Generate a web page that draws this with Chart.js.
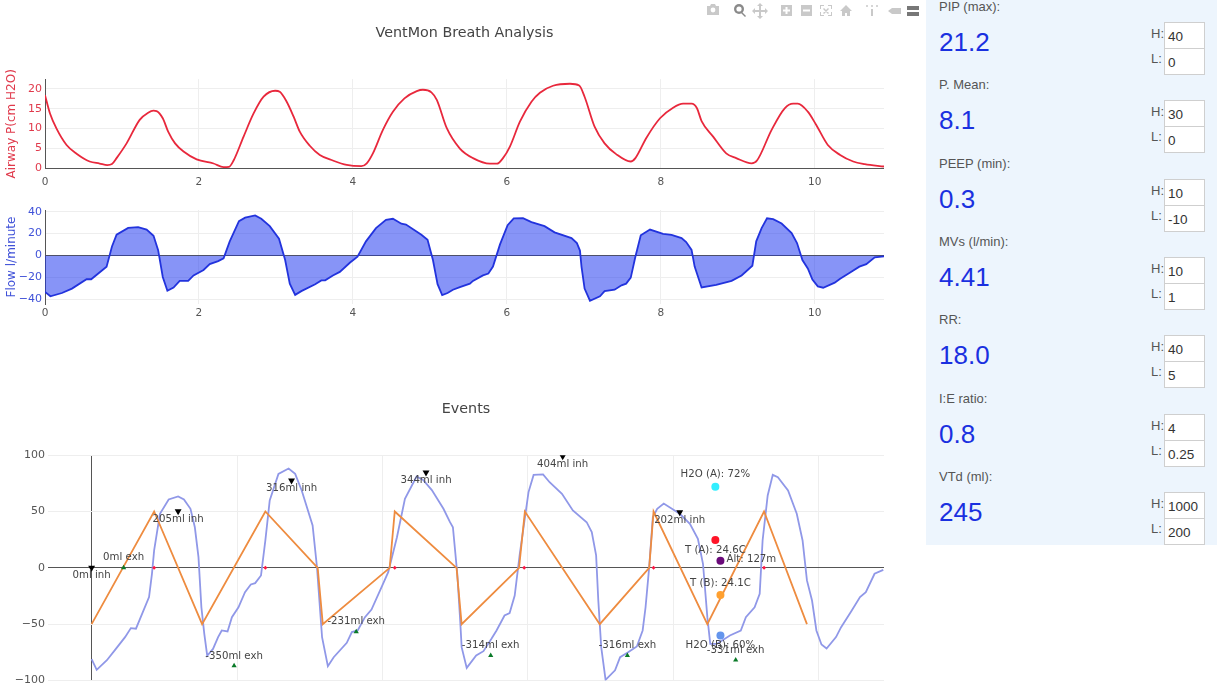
<!DOCTYPE html>
<html>
<head>
<meta charset="utf-8">
<title>VentMon Breath Analysis</title>
<script src="https://cdn.jsdelivr.net/npm/chart.js@4/dist/chart.umd.js"></script>
<style>
  html, body { margin: 0; padding: 0; background: #fff; width: 1230px; height: 687px; overflow: hidden; }
  canvas { position: absolute; left: 0; }
  #modebar { position: absolute; left: 700px; top: 1px; }
  #panel { position: absolute; left: 926px; top: 0; width: 291px; height: 545px; background: #edf5fd;
           font-family: "Liberation Sans", sans-serif; color: #555; overflow: hidden; }
  .row { position: absolute; left: 0; width: 291px; height: 78px; }
  .name { position: absolute; left: 13px; top: -1px; font-size: 13px; line-height: 16px; white-space: nowrap; }
  .value { position: absolute; left: 13px; top: 27px; font-size: 26px; line-height: 30px; color: #1a30e0; }
  .lim { position: absolute; left: 225px; font-size: 13px; line-height: 16px; }
  .box { position: absolute; left: 238px; width: 39px; height: 25px; background: #fff; border: 1px solid #cfcfcf;
         box-sizing: content-box; font-size: 13.5px; line-height: 27px; color: #333; text-indent: 3px; }
</style>
</head>
<body>
<svg id="modebar" width="226" height="20" viewBox="0 0 226 20">
  <g fill="#c9c9c9">
    <path d="M7 5h3l1-2h4l1 2h3v9H7z"/><circle cx="13" cy="9" r="2.4" fill="#fff"/>
    <circle cx="39" cy="8" r="5" fill="#8a8a8a"/><circle cx="39" cy="8" r="2.6" fill="#fff"/><path d="M42 11l4 4-1 1-4-4z" fill="#8a8a8a"/>
    <path transform="translate(-4 0)" d="M59 9h4V5h-2l3-3 3 3h-2v4h4V7l3 3-3 3v-2h-4v4h2l-3 3-3-3h2v-4h-4v2l-3-3 3-3z"/>
    <path d="M81 4h11v11H81z"/><path d="M85.500 6h2v2.500H90v2h-2.500V13h-2v-2.500H83v-2h2.500z" fill="#fff"/>
    <path d="M101 4h11v11h-11z"/><path d="M103 8.500h7v2h-7z" fill="#fff"/>
    <path d="M120 4h4v1h-3v3h-1zM132 4v4h-1V5h-3V4zM120 15v-4h1v3h3v1zM132 15h-4v-1h3v-3h1zM124 7l5 5-1 1-5-5zM128 7l1 1-5 5-1-1z"/>
    <path d="M146 4l6 6h-2v5h-3v-3h-2v3h-3v-5h-2z"/>
    <path d="M171 8h2v7h-2z"/><circle cx="167" cy="5" r="1"/><circle cx="172" cy="5" r="1"/><circle cx="177" cy="5" r="1"/>
    <path d="M188 10l4-3h9v6h-9z"/>
    <path d="M207 5h12v4h-12zM207 11h12v4h-12z" fill="#777"/>
  </g>
</svg>
<canvas id="pressure"></canvas>
<canvas id="flow"></canvas>
<canvas id="events"></canvas>
<div id="panel"></div>
<script>
const pressureTime = [0,.065,.15,.28,.41,.58,.71,.81,.87,.93,1.06,1.23,1.34,1.41,1.45,1.53,1.6,1.69,1.8,1.97,2.19,2.32,2.39,2.45,2.58,2.71,2.84,2.99,3.05,3.14,3.23,3.31,3.44,3.57,3.74,3.92,4.11,4.18,4.26,4.39,4.52,4.67,4.83,4.91,5.02,5.09,5.22,5.39,5.56,5.78,5.87,5.95,6.04,6.17,6.32,6.43,6.6,6.82,6.94,7.01,7.14,7.27,7.42,7.61,7.67,7.81,7.99,8.16,8.29,8.4,8.47,8.53,8.68,8.85,8.98,9.18,9.25,9.44,9.61,9.72,9.78,9.91,10.02,10.17,10.33,10.5,10.65,10.9];
const pressureValues = [18.4,13.8,10,5.9,3.7,1.75,1.25,.85,1.1,2.6,6.3,12.2,14,14.5,14.4,12.6,9.25,6.3,4.25,2.3,1.25,.33,.4,2,8,13.8,18,19.5,19.25,16.75,13,9.25,5.7,3.4,2,.9,.6,1.3,3.8,9.7,14.25,17.6,19.4,19.75,19.1,17.2,10.1,5,2.6,1.2,1.2,2.6,5.5,11.75,16.75,19,20.75,21.25,20.8,18,10.5,6.3,3.6,1.75,2.6,7.6,12.6,15.25,16.25,16.25,15.1,11.9,8,3.8,2.6,1.3,2,9.7,15.1,16.25,16.25,14.25,10.9,5.9,3.4,1.75,1.1,.5];

const flowTime = [0,.07,.22,.35,.54,.6,.8,.87,.93,1.08,1.21,1.32,1.41,1.47,1.53,1.59,1.67,1.75,1.86,1.93,2.06,2.14,2.25,2.32,2.4,2.52,2.6,2.73,2.81,2.92,3.04,3.12,3.18,3.25,3.33,3.51,3.59,3.64,3.74,3.83,3.96,4.06,4.17,4.3,4.43,4.52,4.63,4.69,4.89,4.97,5.04,5.1,5.16,5.23,5.3,5.39,5.52,5.56,5.69,5.76,5.82,5.91,6.01,6.09,6.21,6.32,6.49,6.62,6.84,6.91,6.95,6.97,7.01,7.08,7.21,7.27,7.4,7.49,7.55,7.61,7.67,7.74,7.86,8.03,8.14,8.27,8.33,8.4,8.44,8.53,8.72,8.92,9.05,9.19,9.24,9.31,9.38,9.46,9.57,9.7,9.77,9.84,9.91,9.97,10.04,10.11,10.26,10.33,10.45,10.58,10.67,10.78,10.9];
const flowValues = [-33,-37,-34,-30,-21.5,-21.5,-10,8.3,19,25.2,26,23.7,18,5,-19.4,-32,-29,-23,-23,-18,-13,-7.7,-5,-2.5,13,31.4,34.5,36.6,33.5,26.8,15.4,-4,-25.5,-35.7,-32.3,-26,-22.5,-22.5,-18,-14.8,-6.5,-1,13,25,32.6,33.5,29,28.3,19,14.5,-4,-26,-36,-34,-31,-28.6,-25.5,-23,-18,-16.3,-10,10,27.7,33.8,34,30.5,26.8,21.2,16,11.4,4.6,-10,-30,-41,-37,-32.3,-31,-27,-25.5,-20,-1,18.5,23.7,19.7,18.8,16,12.3,5.2,-10,-29,-26.5,-23,-18,-9.2,13,25,34,33.2,29.2,20.6,11.4,-4,-11.7,-21.8,-28,-29.2,-24.6,-21,-15.7,-10,-7.7,-1.5,-.6];

const eventFlowTime = [0,.07,.21,.32,.46,.54,.61,.79,.83,.86,.94,1.06,1.19,1.27,1.36,1.42,1.47,1.51,1.55,1.59,1.67,1.74,1.79,1.87,1.93,2.02,2.11,2.19,2.25,2.33,2.39,2.45,2.57,2.71,2.8,2.89,3.04,3.1,3.17,3.25,3.33,3.51,3.58,3.66,3.76,3.85,3.99,4.08,4.2,4.31,4.47,4.56,4.68,4.84,4.93,4.97,5.03,5.07,5.09,5.16,5.29,5.39,5.5,5.57,5.68,5.75,5.82,5.89,6.01,6.08,6.21,6.3,6.47,6.62,6.81,6.88,6.94,6.97,7.01,7.07,7.2,7.27,7.38,7.5,7.58,7.62,7.67,7.72,7.78,7.87,8.09,8.23,8.34,8.41,8.47,8.51,8.6,8.78,8.93,9,9.12,9.19,9.23,9.3,9.37,9.44,9.58,9.7,9.78,9.84,9.91,9.97,10.04,10.11,10.24,10.31,10.45,10.57,10.65,10.77,10.89];
const eventFlowValues = [-81,-90.5,-82,-73,-61.5,-53.5,-54,-26,-5.3,15.4,48,60.7,63.3,60.7,52.4,36,9.5,-35,-58.6,-78,-72,-61.5,-55.6,-56.5,-43.8,-35,-21.6,-14.8,-13.6,-6.8,24.3,59.8,83.4,88.2,83.4,68.6,37.6,.6,-61.5,-87.3,-79.3,-66.6,-57,-55.6,-43.8,-37,-17,-3.8,27.2,61.2,81,78,69,52.4,40.5,36,-5.3,-46.7,-70.4,-88.8,-77.8,-74,-63,-55.6,-42.3,-40.2,-24.6,12.4,67.2,82.5,83,76,65.7,50.9,40.5,31.7,11,-29,-70.4,-99.4,-91,-79.3,-74.9,-69.8,-55.6,-35,.6,45,52.4,57,48,39,25.7,3.6,-43.8,-67.5,-67.5,-60,-55.6,-43.8,-35,-23,24.3,64.2,82.5,80.5,68.6,48,24.3,-11.2,-29,-55.6,-68,-71.6,-61.5,-52.7,-38.5,-26,-21.6,-5.3,-1.8];

const phaseTime = [0,.86,1.52,2.39,3.11,3.18,4.1,4.17,5.02,5.09,5.88,5.96,6.99,7.67,7.73,8.47,9.25,9.84];
const phaseValues = [-50,50,-50,50,0,-50,0,50,0,-50,0,50,-50,0,50,-50,50,-50];

const triggerTime = [.86,2.39,4.17,5.95,7.73,9.25];
const triggerValues = [0,0,0,0,0,0];

const inhTime = [0,1.19,2.75,4.6,6.48,8.09];
const inhValues = [0,50.3,77.5,84.6,99,49.4];
const inhLabels = ["0ml inh","205ml inh","316ml inh","344ml inh","404ml inh","202ml inh"];

const exhTime = [.44,1.96,3.64,5.49,7.37,8.86];
const exhValues = [0,-87,-56.8,-77.8,-77.8,-81.7];
const exhLabels = ["0ml exh","-350ml exh","-231ml exh","-314ml exh","-316ml exh","-331ml exh"];

const sensorNames = ["H2O (A): 72%","T (A): 24.6C","Alt: 127m","T (B): 24.1C","H2O (B): 60%"];
const sensorTime = [8.58,8.58,8.65,8.65,8.65];
const sensorValues = [72,24.6,6.2,-24.1,-60];
const sensorColors = ["#33eeff","#ff1428","#6a0a7a","#ffa030","#6495ed"];
const sensorPlacement = ["above","below","right","above","below"];

const metricNames = ["PIP (max):","P. Mean:","PEEP (min):","MVs (l/min):","RR:","I:E ratio:","VTd (ml):"];
const metricValues = ["21.2","8.1","0.3","4.41","18.0","0.8","245"];
const highLimits = ["40","30","10","10","40","4","1000"];
const lowLimits = ["0","0","-10","1","5","0.25","200"];

const FONT = '"DejaVu Sans", sans-serif';
Chart.defaults.font.family = FONT;
Chart.defaults.font.size = 10;
Chart.defaults.animation = false;

const toPoints = (xs, ys) => xs.map((x, i) => ({ x, y: ys[i] }));
const minusSign = v => (v < 0 ? "\u2212" + Math.abs(v) : String(v));
const gridColor = ctx => (ctx.tick.value === 0 ? "#555" : "#eee");

// draws the text that belongs to a marker series next to its points
const markerText = {
  id: "markerText",
  afterDatasetsDraw(chart) {
    const ctx = chart.ctx;
    ctx.save();
    ctx.font = "10.2px " + FONT;
    ctx.fillStyle = "#444";
    ctx.textBaseline = "middle";
    chart.data.datasets.forEach((ds, i) => {
      if (!ds.texts) return;
      chart.getDatasetMeta(i).data.forEach((pt, j) => {
        ctx.textAlign = ds.textAlign || "center";
        ctx.fillText(ds.texts[j], pt.x + (ds.textDx || 0), pt.y + (ds.textDy || 0));
      });
    });
    ctx.restore();
  }
};

function makeChart(id, top, height, width, right, extra) {
  const canvas = document.getElementById(id);
  canvas.width = width;
  canvas.height = height;
  canvas.style.top = top + "px";
  return new Chart(canvas, {
    type: "line",
    data: { datasets: extra.datasets },
    plugins: [markerText],
    options: {
      responsive: false,
      layout: { padding: { top: extra.padTop || 0, right } },
      plugins: {
        legend: { display: false },
        tooltip: { enabled: false },
        title: extra.title || { display: false }
      },
      scales: {
        x: {
          type: "linear",
          min: extra.xMin,
          max: 10.9,
          grid: { color: gridColor, drawTicks: false },
          border: { display: false },
          ticks: { stepSize: 2, includeBounds: false, maxRotation: 0, autoSkip: false, color: "#555", padding: extra.xPad, font: { size: 10.5 } },
          afterFit: s => { s.height = extra.xHeight; }
        },
        y: {
          min: extra.yMin,
          max: extra.yMax,
          grid: { color: gridColor, drawTicks: false },
          border: { display: extra.yBorder, color: "#555" },
          title: extra.yTitle || { display: false },
          ticks: { stepSize: extra.yStep, includeBounds: false, color: extra.yColor, padding: 3, callback: minusSign, font: { size: 11 } },
          afterFit: s => { s.width = extra.yWidth; }
        }
      }
    }
  });
}

makeChart("pressure", 20, 170, 900, 16, {
  title: { display: true, fullSize: false, text: "VentMon Breath Analysis", color: "#444", font: { size: 14.3, weight: "normal" }, padding: { top: 5, bottom: 37 } },
  xMin: 0, xHeight: 21.5, xPad: 7, yWidth: 45, yMin: 0, yMax: 22.4, yStep: 5, yBorder: true, yColor: "#e0394b",
  yTitle: { display: true, text: "Airway P(cm H2O)", color: "#e0394b", font: { size: 12 }, padding: { top: 5, bottom: 0 } },
  datasets: [{
    data: toPoints(pressureTime, pressureValues),
    borderColor: "#e8283c", borderWidth: 1.8, pointRadius: 0, cubicInterpolationMode: "monotone"
  }]
});

makeChart("flow", 200, 125, 900, 16, {
  padTop: 10,
  xMin: 0, xHeight: 21, xPad: 3, yWidth: 45, yMin: -44, yMax: 41.5, yStep: 20, yBorder: true, yColor: "#3f51d8",
  yTitle: { display: true, text: "Flow l/minute", color: "#3f51d8", font: { size: 12 }, padding: { top: 5, bottom: 0 } },
  datasets: [{
    data: toPoints(flowTime, flowValues),
    borderColor: "#2233dd", borderWidth: 1.8, pointRadius: 0, fill: "origin", backgroundColor: "rgba(25,50,240,0.52)"
  }]
});

const sensorDatasets = sensorNames.map((name, i) => ({
  data: [{ x: sensorTime[i], y: sensorValues[i] }],
  showLine: false, pointRadius: 4, pointBackgroundColor: sensorColors[i], pointBorderWidth: 0,
  texts: [name],
  textAlign: sensorPlacement[i] === "right" ? "left" : "center",
  textDx: sensorPlacement[i] === "right" ? 6 : 0,
  textDy: sensorPlacement[i] === "above" ? -12 : sensorPlacement[i] === "below" ? 10 : -1
}));

makeChart("events", 395, 310, 900, 16, {
  title: { display: true, fullSize: false, text: "Events", color: "#444", font: { size: 14.3, weight: "normal" }, padding: { top: 6, bottom: 37 } },
  xMin: -0.6, xHeight: 24.5, xPad: 5, yWidth: 48, yMin: -100, yMax: 100, yStep: 50, yBorder: false, yColor: "#555",
  datasets: [
    ...sensorDatasets,
    {
      data: toPoints(inhTime, inhValues),
      showLine: false, pointStyle: "triangle", rotation: 180, pointRadius: 4, pointBackgroundColor: "#000", pointBorderWidth: 0,
      texts: inhLabels, textDy: 8
    },
    {
      data: toPoints(exhTime, exhValues),
      showLine: false, pointStyle: "triangle", pointRadius: 3, pointBackgroundColor: "#0a7a28", pointBorderWidth: 0,
      texts: exhLabels, textDy: -10
    },
    {
      data: toPoints(triggerTime, triggerValues),
      showLine: false, pointStyle: "rectRot", pointRadius: 2, pointBackgroundColor: "#ff1440", pointBorderWidth: 0
    },
    {
      data: toPoints(phaseTime, phaseValues),
      borderColor: "#ee8c40", borderWidth: 1.8, pointRadius: 0
    },
    {
      data: toPoints(eventFlowTime, eventFlowValues),
      borderColor: "#9098e8", borderWidth: 1.8, pointRadius: 0
    }
  ]
});

// limits panel
const panel = document.getElementById("panel");
metricNames.forEach((name, i) => {
  const row = document.createElement("div");
  row.className = "row";
  row.style.top = Math.round(i * 78.35) + "px";
  row.innerHTML =
    `<div class="name">${name}</div><div class="value">${metricValues[i]}</div>` +
    `<div class="lim" style="top:26px">H:</div><div class="box" style="top:22px">${highLimits[i]}</div>` +
    `<div class="lim" style="top:51px">L:</div><div class="box" style="top:48px">${lowLimits[i]}</div>`;
  panel.appendChild(row);
});
</script>
</body>
</html>
